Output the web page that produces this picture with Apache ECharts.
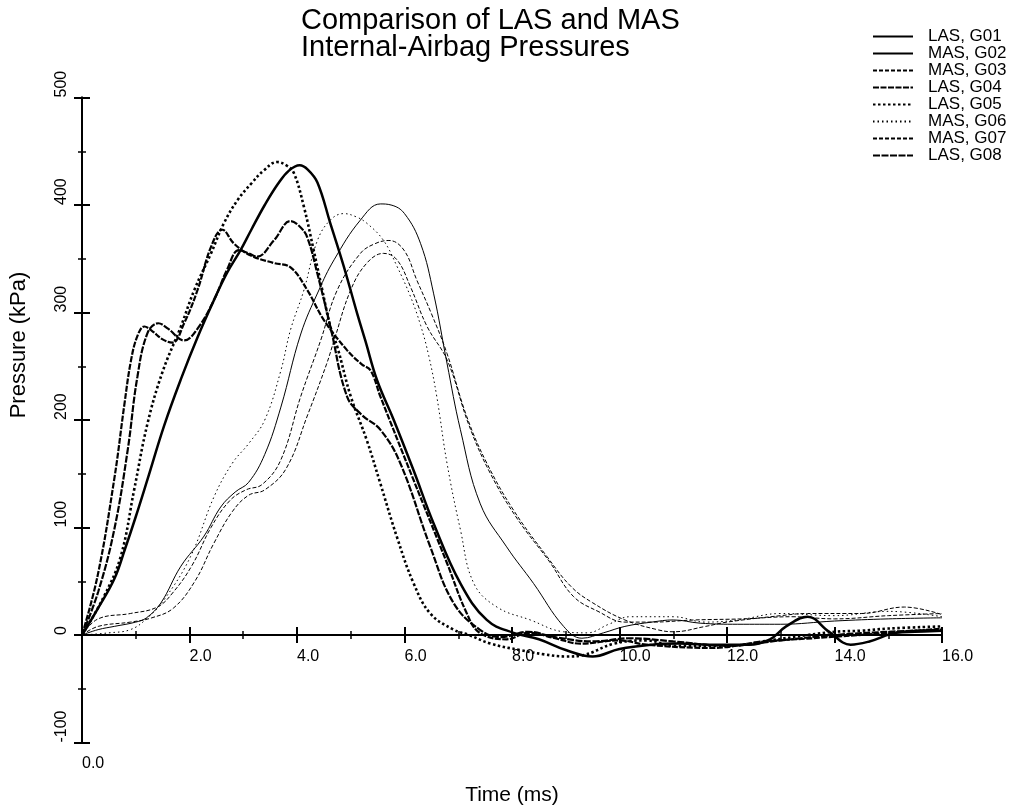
<!DOCTYPE html>
<html>
<head>
<meta charset="utf-8">
<script src="https://cdn.jsdelivr.net/npm/echarts@6/dist/echarts.min.js"></script>
<style>
  html, body { margin: 0; padding: 0; background: #fff; }
  #chart { width: 1010px; height: 812px; }
</style>
</head>
<body>
<div id="chart"></div>
<script>
// series names, in legend order
var seriesNames = ['LAS, G01', 'MAS, G02', 'MAS, G03', 'LAS, G04', 'LAS, G05', 'MAS, G06', 'MAS, G07', 'LAS, G08'];

// [time (ms), pressure (kPa)]
var g01 = [[0,0],[0.3,25],[0.6,52],[0.8,80],[1.0,110],[1.22,145],[1.53,195],[1.84,238],[2.15,277],[2.45,311],[2.7,337],[2.95,358],[3.15,377],[3.4,400],[3.65,420],[3.85,432],[4.05,437],[4.2,433],[4.38,421],[4.62,383],[4.87,343],[5.12,299],[5.27,274],[5.49,237],[5.8,200],[6.17,153],[6.54,104],[7.04,48],[7.53,14],[8.03,2],[8.5,-4],[9.0,-14],[9.5,-20],[10.0,-13],[10.6,-9],[11.1,-8],[11.8,-9],[12.4,-9],[12.8,-4],[13.1,8],[13.5,17],[13.9,3],[14.3,-9],[14.65,-6],[15.15,2],[15.5,3],[16,4]];
var g02 = [[0,0],[0.3,5],[0.6,8],[1.0,12],[1.2,16],[1.47,30],[1.84,64],[2.27,92],[2.58,119],[2.85,133],[3.1,142],[3.4,168],[3.7,212],[4.07,280],[4.4,320],[4.69,349],[5.18,386],[5.55,401],[5.75,400],[6.0,392],[6.3,364],[6.54,318],[6.79,253],[7.04,191],[7.41,122],[7.9,82],[8.4,48],[8.96,8],[9.3,-3],[9.7,2],[10.1,8],[10.6,12],[11.0,14],[11.5,11],[12.2,10],[13.0,10],[14.0,13],[15.0,15],[16,16]];
var g03 = [[0,0],[0.3,15],[0.9,20],[1.4,26],[1.7,40],[2.05,65],[2.4,100],[2.75,125],[3.05,135],[3.35,140],[3.7,163],[4.07,222],[4.44,274],[4.75,321],[5.18,355],[5.45,364],[5.71,367],[5.99,358],[6.23,330],[6.5,299],[6.79,262],[7.16,203],[7.53,160],[8.03,116],[8.65,73],[9.1,45],[9.5,30],[10.1,14],[10.7,5],[11.0,3],[11.6,8],[12.0,12],[13.0,18],[13.5,20],[14.5,20],[15.3,26],[16,19]];
var g04 = [[0,0],[0.29,55],[0.6,145],[0.79,215],[0.91,255],[1.03,278],[1.16,287],[1.3,283],[1.5,275],[1.68,272],[1.9,290],[2.15,321],[2.4,361],[2.61,377],[2.83,364],[3.14,353],[3.57,346],[3.88,342],[4.19,321],[4.5,293],[4.93,265],[5.2,252],[5.37,246],[5.55,222],[6.17,144],[6.79,67],[7.16,20],[7.4,2],[7.9,-4],[8.3,2],[8.8,-3],[9.27,-8],[10,-5],[10.5,-9],[11.7,-12],[12.7,-6],[13.6,-3],[14.75,1],[16,6]];
var g05 = [[0,0],[0.4,35],[0.72,73],[0.97,135],[1.22,197],[1.5,245],[1.84,287],[2.09,321],[2.4,355],[2.64,383],[2.9,405],[3.15,420],[3.38,432],[3.63,440],[3.8,437],[3.94,430],[4.13,398],[4.31,358],[4.47,321],[4.62,287],[4.75,268],[5.0,222],[5.3,181],[5.55,141],[5.86,91],[6.17,48],[6.48,20],[6.91,5],[7.2,0],[7.6,-8],[8.15,-14],[8.6,-18],[9.0,-20],[9.3,-19],[9.9,-8],[10.5,-5],[11.0,-10],[12.0,-10],[12.8,-5],[13.5,0],[14.0,3],[14.5,4],[15.0,6],[16,8]];
var g06 = [[0,0],[0.5,2],[0.9,5],[1.2,15],[1.53,33],[2.02,73],[2.46,129],[2.8,160],[3.1,178],[3.4,200],[3.7,246],[3.88,284],[4.13,321],[4.38,367],[4.62,386],[4.87,392],[5.1,389],[5.3,383],[5.61,367],[5.86,343],[6.11,315],[6.3,288],[6.45,260],[6.6,222],[6.79,160],[7.04,98],[7.29,48],[7.72,26],[8.34,14],[8.96,3],[9.4,2],[9.8,10],[10.2,17],[11.0,17],[11.6,12],[12.2,14],[13.0,20],[14.0,18],[15.0,22],[16,17]];
var g07 = [[0,0],[0.3,8],[0.9,12],[1.3,16],[1.7,25],[2.1,50],[2.45,85],[2.8,115],[3.1,130],[3.4,135],[3.8,155],[4.2,205],[4.55,252],[4.69,274],[5.0,321],[5.3,346],[5.61,355],[5.86,349],[6.11,324],[6.42,287],[6.8,255],[7.2,195],[7.6,150],[8.1,108],[8.7,68],[9.14,36],[9.6,22],[10.1,12],[10.6,12],[11.4,14],[12.3,15],[13.2,17],[14,15],[15,18],[16,20]];
var g08 = [[0,0],[0.3,40],[0.6,98],[0.85,172],[1.03,240],[1.22,281],[1.42,290],[1.6,285],[1.9,274],[2.15,285],[2.46,312],[2.7,340],[2.92,358],[3.1,355],[3.26,352],[3.57,367],[3.88,385],[4.05,380],[4.19,370],[4.38,336],[4.62,287],[4.93,222],[5.2,205],[5.55,191],[5.92,160],[6.48,82],[6.91,30],[7.4,5],[7.8,-2],[8.3,3],[8.8,-2],[9.5,-6],[10.2,-3],[11.0,-6],[12.0,-10],[13.0,-5],[14.0,0],[15.0,3],[16,5]];

var seriesData = [g01, g02, g03, g04, g05, g06, g07, g08];

// line look for each series: width, dash
var lineLooks = [
  { width: 2.5, type: 'solid' },
  { width: 1, type: 'solid' },
  { width: 1, type: [4, 2] },
  { width: 2.2, type: [6, 1.5] },
  { width: 2.6, type: [2.5, 2.5] },
  { width: 1, type: [1.5, 3] },
  { width: 1, type: [4, 2] },
  { width: 2.2, type: [7, 1.5] }
];

var FONT = '"Liberation Sans", Arial, sans-serif';

var chart = echarts.init(document.getElementById('chart'));

// the zero line sits 107.5px above the bottom of the grid
var ZERO_SHIFT = -107.5;

function xAxisBase() {
  return {
    type: 'value',
    position: 'bottom',
    offset: ZERO_SHIFT,
    min: 0,
    max: 16,
    interval: 2,
    splitLine: { show: false },
    axisLine: { onZero: false, lineStyle: { color: '#000', width: 2 } },
    axisTick: { length: 8, lineStyle: { color: '#000', width: 2 } },
    minorTick: { show: true, splitNumber: 2, length: 4, lineStyle: { color: '#000', width: 1.5 } },
    axisLabel: { show: false }
  };
}

function yAxisBase() {
  return {
    type: 'value',
    position: 'left',
    min: -100,
    max: 500,
    interval: 100,
    splitLine: { show: false },
    axisLine: { onZero: false, lineStyle: { color: '#000', width: 2 } },
    axisTick: { length: 8, lineStyle: { color: '#000', width: 2 } },
    minorTick: { show: true, splitNumber: 2, length: 4, lineStyle: { color: '#000', width: 1.5 } },
    axisLabel: { show: false }
  };
}

// main x axis: ticks down, labels
var x0 = xAxisBase();
x0.axisTick.inside = false;
x0.axisLabel = {
  show: true,
  margin: 14,
  align: 'left',
  fontSize: 16,
  color: '#000',
  fontFamily: FONT,
  formatter: function (v) { return v === 0 ? '' : v.toFixed(1); }
};
// same axis, ticks up
var x1 = xAxisBase();
x1.axisTick.inside = true;
x1.minorTick.inside = true;
// bottom axis carries the 0.0 label and the axis name
var x2 = xAxisBase();
x2.offset = 0;
x2.axisLine = { show: false, onZero: false };
x2.axisTick = { show: false };
x2.minorTick = { show: false };
x2.axisLabel = {
  show: true,
  margin: 13,
  align: 'left',
  fontSize: 16,
  color: '#000',
  fontFamily: FONT,
  formatter: function (v) { return v === 0 ? '0.0' : ''; }
};
x2.name = 'Time (ms)';
x2.nameLocation = 'middle';
x2.nameGap = 42;
x2.nameTextStyle = { fontSize: 21, color: '#000', fontFamily: FONT };

// main y axis: ticks left, rotated labels
var y0 = yAxisBase();
y0.axisTick.inside = false;
y0.axisLabel = {
  show: true,
  rotate: 90,
  margin: 12,
  align: 'left',
  verticalAlign: 'bottom',
  fontSize: 16,
  color: '#000',
  fontFamily: FONT
};
y0.name = 'Pressure (kPa)';
y0.nameLocation = 'middle';
y0.nameGap = 52;
y0.nameTextStyle = { fontSize: 22, color: '#000', fontFamily: FONT, padding: [0, 0, 0, 150] };
// same axis, ticks right
var y1 = yAxisBase();
y1.axisTick.inside = true;
y1.minorTick.inside = true;

var series = seriesNames.map(function (name, i) {
  return {
    name: name,
    type: 'line',
    xAxisIndex: 0,
    yAxisIndex: 0,
    symbol: 'none',
    smooth: 0.4,
    lineStyle: { color: '#000', width: lineLooks[i].width, type: lineLooks[i].type },
    itemStyle: { color: '#000' },
    data: seriesData[i]
  };
});

var option = {
  animation: false,
  backgroundColor: '#fff',
  textStyle: { fontFamily: FONT, color: '#000' },
  title: {
    text: 'Comparison of LAS and MAS\nInternal-Airbag Pressures',
    left: 296,
    top: 2,
    textStyle: { fontSize: 29, lineHeight: 27, fontWeight: 'normal', color: '#000', fontFamily: FONT }
  },
  legend: {
    orient: 'vertical',
    left: 872,
    top: 28,
    itemWidth: 40,
    itemHeight: 10,
    itemGap: 0,
    padding: 0,
    data: seriesNames,
    itemStyle: { opacity: 0, borderWidth: 0 },
    textStyle: { fontSize: 17, lineHeight: 15.5, color: '#000', fontFamily: FONT, padding: [0, 0, 0, 10] }
  },
  grid: { left: 81, right: 68, top: 97.5, bottom: 69.5, containLabel: false },
  xAxis: [x0, x1, x2],
  yAxis: [y0, y1],
  series: series
};

chart.setOption(option);
</script>
</body>
</html>
